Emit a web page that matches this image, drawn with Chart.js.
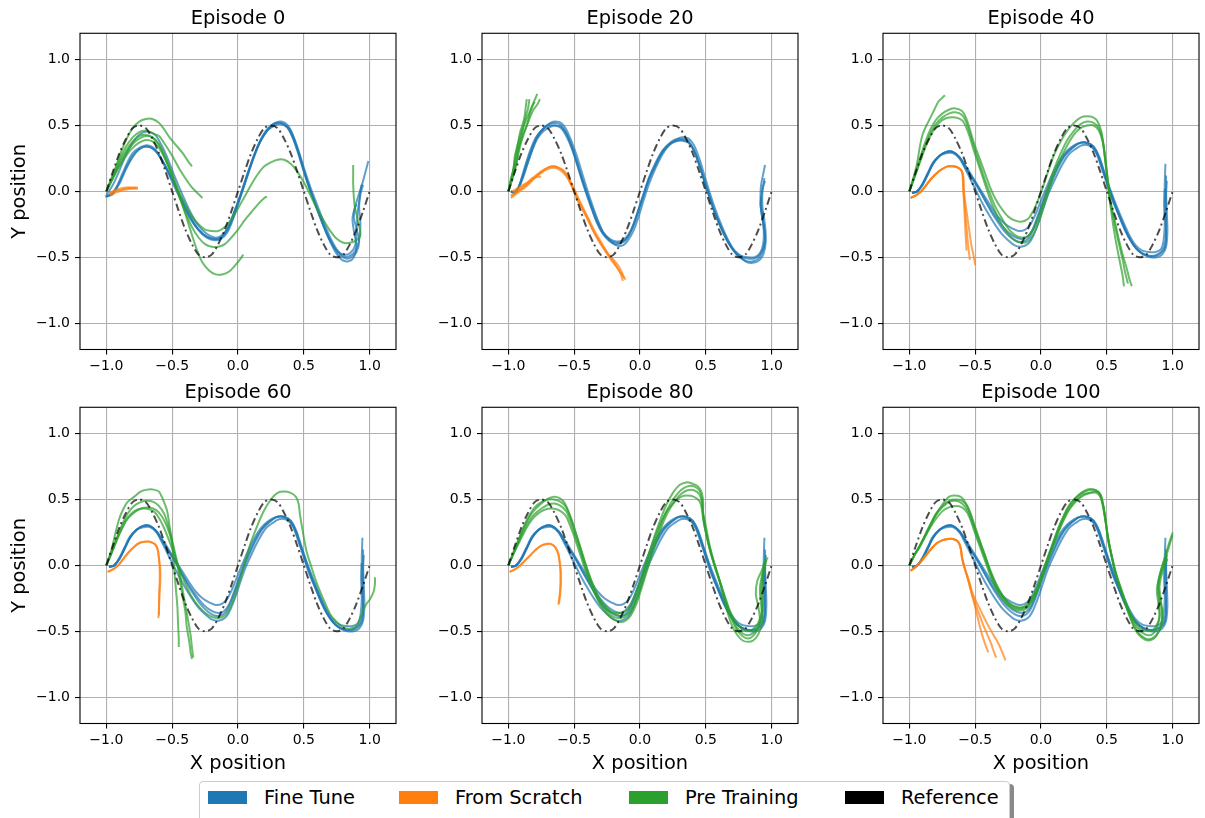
<!DOCTYPE html>
<html>
<head>
<meta charset="utf-8">
<script src="https://cdn.jsdelivr.net/npm/chart.js@4.4.1/dist/chart.umd.min.js"></script>
<style>
  html, body { margin: 0; padding: 0; background: #fff; }
  body { width: 1205px; height: 818px; position: relative; overflow: hidden; font-family: "DejaVu Sans", sans-serif; }
  canvas { position: absolute; }
  .legend { position: absolute; left: 199px; top: 781px; width: 811px; height: 44px; box-sizing: border-box;
            border: 1px solid #cccccc; border-radius: 4px; background: #fff; box-shadow: 4px 3px 0 #8a8a8a; }
  .patch { position: absolute; top: 791px; width: 39px; height: 13px; }
  .label { position: absolute; top: 788px; font-size: 19.4px; line-height: 19.4px; color: #000; white-space: nowrap; }
</style>
</head>
<body>
<div class="legend"></div>
<div class="patch" style="left:208px;background:#1f77b4"></div><div class="label" style="left:264px">Fine Tune</div>
<div class="patch" style="left:399px;background:#ff7f0e"></div><div class="label" style="left:455px">From Scratch</div>
<div class="patch" style="left:629px;background:#2ca02c"></div><div class="label" style="left:685px">Pre Training</div>
<div class="patch" style="left:845px;background:#000000"></div><div class="label" style="left:901px">Reference</div>

<script>
// ---- data ----
const episodes = [0, 20, 40, 60, 80, 100];

// reference path (dash-dot)
const refX = [-1, -0.95, -0.9, -0.85, -0.8, -0.75, -0.7, -0.65, -0.6, -0.55, -0.5, -0.45, -0.4, -0.35, -0.3, -0.25, -0.2, -0.15, -0.1, -0.05,
              0, 0.05, 0.1, 0.15, 0.2, 0.25, 0.3, 0.35, 0.4, 0.45, 0.5, 0.55, 0.6, 0.65, 0.7, 0.75, 0.8, 0.85, 0.9, 0.95, 1.0];
const refY = [0, 0.15, 0.29, 0.4, 0.48, 0.5, 0.48, 0.4, 0.29, 0.15, 0, -0.15, -0.29, -0.4, -0.48, -0.5, -0.48, -0.4, -0.29, -0.15,
              0, 0.15, 0.29, 0.4, 0.48, 0.5, 0.48, 0.4, 0.29, 0.15, 0, -0.15, -0.29, -0.4, -0.48, -0.5, -0.48, -0.4, -0.29, -0.15, 0];

// Episode 0
const fineEp0 = [
  [[-1.01,-0.04],[-0.96,-0.02],[-0.92,0.04],[-0.88,0.13],[-0.84,0.22],[-0.8,0.29],[-0.75,0.33],[-0.69,0.35],[-0.63,0.32],[-0.58,0.24],[-0.53,0.14],[-0.48,0.03],[-0.42,-0.09],[-0.36,-0.21],[-0.3,-0.29],[-0.24,-0.34],[-0.18,-0.36],[-0.13,-0.35],[-0.08,-0.29],[-0.03,-0.16],[0.02,-0.02],[0.07,0.13],[0.12,0.27],[0.17,0.39],[0.22,0.47],[0.28,0.52],[0.33,0.53],[0.38,0.5],[0.42,0.42],[0.46,0.31],[0.5,0.18],[0.55,0.03],[0.6,-0.1],[0.65,-0.23],[0.7,-0.35],[0.75,-0.44],[0.8,-0.49],[0.85,-0.49],[0.89,-0.45],[0.92,-0.37],[0.93,-0.25],[0.92,-0.12],[0.93,0.0],[0.94,0.05]],
  [[-1.0,-0.03],[-0.95,0.05],[-0.9,0.16],[-0.85,0.28],[-0.8,0.37],[-0.75,0.43],[-0.69,0.455],[-0.63,0.43],[-0.58,0.35],[-0.53,0.24],[-0.48,0.11],[-0.42,-0.03],[-0.36,-0.16],[-0.3,-0.26],[-0.24,-0.32],[-0.18,-0.35],[-0.13,-0.34],[-0.08,-0.28],[-0.03,-0.16],[0.02,-0.03],[0.07,0.12],[0.12,0.26],[0.17,0.38],[0.22,0.46],[0.27,0.51],[0.32,0.52],[0.37,0.49],[0.41,0.42],[0.45,0.31],[0.49,0.18],[0.54,0.03],[0.59,-0.11],[0.64,-0.24],[0.69,-0.36],[0.74,-0.46],[0.79,-0.52],[0.84,-0.53],[0.88,-0.5],[0.9,-0.42],[0.88,-0.3],[0.87,-0.2],[0.9,-0.08],[0.95,0.08],[0.99,0.23]],
  [[-1.0,-0.04],[-0.95,-0.01],[-0.9,0.06],[-0.85,0.17],[-0.8,0.26],[-0.75,0.32],[-0.69,0.34],[-0.63,0.31],[-0.58,0.24],[-0.53,0.15],[-0.48,0.05],[-0.42,-0.07],[-0.36,-0.19],[-0.3,-0.29],[-0.24,-0.35],[-0.18,-0.37],[-0.13,-0.36],[-0.08,-0.31],[-0.03,-0.19],[0.02,-0.04],[0.07,0.11],[0.12,0.26],[0.17,0.38],[0.22,0.46],[0.28,0.5],[0.33,0.51],[0.38,0.48],[0.42,0.4],[0.46,0.29],[0.5,0.16],[0.55,0.01],[0.6,-0.13],[0.65,-0.26],[0.7,-0.37],[0.75,-0.45],[0.8,-0.48],[0.85,-0.47],[0.89,-0.41],[0.9,-0.3],[0.91,-0.15],[0.93,-0.02],[0.95,0.05]],
  [[-1.0,-0.04],[-0.95,-0.02],[-0.9,0.07],[-0.85,0.18],[-0.8,0.27],[-0.75,0.32],[-0.7,0.34],[-0.64,0.32],[-0.59,0.26],[-0.54,0.17],[-0.49,0.07],[-0.44,-0.05],[-0.38,-0.17],[-0.32,-0.27],[-0.26,-0.33],[-0.2,-0.36],[-0.15,-0.36],[-0.1,-0.32],[-0.05,-0.23],[0.0,-0.09],[0.05,0.06],[0.1,0.21],[0.15,0.34],[0.2,0.43],[0.25,0.49],[0.3,0.52],[0.35,0.51],[0.4,0.46],[0.44,0.36],[0.48,0.23],[0.52,0.09],[0.57,-0.05],[0.62,-0.18],[0.67,-0.31],[0.72,-0.41],[0.77,-0.48],[0.82,-0.51],[0.86,-0.5],[0.9,-0.46],[0.92,-0.38],[0.9,-0.28],[0.88,-0.2],[0.89,-0.12],[0.9,-0.1]]
];
const scratchEp0 = [
  [[-0.98,-0.02],[-0.94,0.0],[-0.9,0.01],[-0.86,0.02],[-0.82,0.025],[-0.77,0.025]],
  [[-0.97,-0.03],[-0.93,-0.01],[-0.89,0.005],[-0.85,0.015],[-0.8,0.02],[-0.76,0.02]],
  [[-0.98,-0.01],[-0.94,0.005],[-0.9,0.02],[-0.85,0.03],[-0.8,0.03],[-0.76,0.03]]
];
const preEp0 = [
  [[-1,0],[-0.96,0.1],[-0.92,0.21],[-0.88,0.32],[-0.84,0.41],[-0.8,0.48],[-0.75,0.53],[-0.7,0.55],[-0.65,0.55],[-0.6,0.52],[-0.56,0.47],[-0.52,0.41],[-0.47,0.35],[-0.42,0.29],[-0.38,0.23],[-0.35,0.19]],
  [[-1,0],[-0.95,0.12],[-0.9,0.24],[-0.85,0.34],[-0.8,0.41],[-0.75,0.45],[-0.7,0.46],[-0.65,0.44],[-0.6,0.42],[-0.55,0.35],[-0.5,0.27],[-0.45,0.18],[-0.4,0.1],[-0.35,0.03],[-0.3,-0.02],[-0.27,-0.05]],
  [[-1,0],[-0.95,0.1],[-0.9,0.2],[-0.85,0.29],[-0.8,0.36],[-0.75,0.4],[-0.7,0.42],[-0.65,0.41],[-0.6,0.36],[-0.55,0.26],[-0.5,0.13],[-0.45,0.0],[-0.4,-0.1],[-0.35,-0.19],[-0.3,-0.25],[-0.25,-0.29],[-0.2,-0.3],[-0.15,-0.3],[-0.1,-0.27],[-0.05,-0.21],[0.0,-0.13],[0.05,-0.04],[0.1,0.05],[0.15,0.13],[0.2,0.19],[0.25,0.22],[0.3,0.24],[0.35,0.24],[0.4,0.21],[0.45,0.15],[0.5,0.07],[0.55,-0.03],[0.6,-0.13],[0.65,-0.22],[0.7,-0.3],[0.75,-0.36],[0.8,-0.39],[0.85,-0.39],[0.9,-0.37],[0.93,-0.33],[0.91,-0.22],[0.885,-0.1],[0.875,0.05],[0.875,0.2]],
  [[-1,0],[-0.95,0.1],[-0.9,0.19],[-0.85,0.27],[-0.8,0.33],[-0.75,0.37],[-0.7,0.39],[-0.65,0.38],[-0.6,0.33],[-0.55,0.24],[-0.5,0.12],[-0.45,-0.02],[-0.4,-0.17],[-0.35,-0.33],[-0.31,-0.45],[-0.27,-0.54],[-0.22,-0.6],[-0.17,-0.63],[-0.12,-0.63],[-0.07,-0.61],[-0.02,-0.56],[0.02,-0.51],[0.04,-0.48]],
  [[-1,0],[-0.95,0.11],[-0.9,0.22],[-0.85,0.31],[-0.8,0.38],[-0.75,0.42],[-0.7,0.43],[-0.65,0.41],[-0.6,0.35],[-0.55,0.24],[-0.5,0.11],[-0.45,-0.03],[-0.4,-0.16],[-0.35,-0.27],[-0.3,-0.35],[-0.25,-0.4],[-0.2,-0.42],[-0.15,-0.42],[-0.1,-0.4],[-0.05,-0.35],[0.0,-0.29],[0.05,-0.22],[0.1,-0.16],[0.15,-0.1],[0.2,-0.05],[0.22,-0.04]]
];

// Episode 20
const fineEp20 = [
  [[-0.98,0.0],[-0.95,-0.01],[-0.92,0.03],[-0.9,0.1],[-0.87,0.2],[-0.83,0.32],[-0.79,0.41],[-0.74,0.47],[-0.69,0.51],[-0.65,0.52],[-0.61,0.51],[-0.57,0.46],[-0.53,0.37],[-0.49,0.25],[-0.45,0.12],[-0.41,0.0],[-0.37,-0.12],[-0.33,-0.23],[-0.29,-0.31],[-0.24,-0.37],[-0.19,-0.4],[-0.14,-0.39],[-0.1,-0.36],[-0.06,-0.28],[-0.02,-0.17],[0.02,-0.05],[0.06,0.07],[0.11,0.18],[0.16,0.28],[0.21,0.35],[0.26,0.39],[0.31,0.4],[0.36,0.39],[0.4,0.33],[0.44,0.23],[0.48,0.11],[0.52,-0.02],[0.56,-0.14],[0.61,-0.26],[0.66,-0.37],[0.71,-0.45],[0.76,-0.5],[0.81,-0.53],[0.86,-0.53],[0.9,-0.51],[0.93,-0.46],[0.95,-0.38],[0.94,-0.27],[0.92,-0.15],[0.915,-0.05],[0.92,0.05],[0.95,0.2]],
  [[-0.98,0.0],[-0.95,-0.01],[-0.92,0.04],[-0.89,0.12],[-0.86,0.22],[-0.82,0.33],[-0.78,0.42],[-0.73,0.48],[-0.68,0.5],[-0.64,0.5],[-0.6,0.48],[-0.56,0.42],[-0.52,0.33],[-0.48,0.21],[-0.44,0.08],[-0.4,-0.04],[-0.36,-0.15],[-0.32,-0.25],[-0.28,-0.32],[-0.23,-0.37],[-0.18,-0.39],[-0.13,-0.38],[-0.09,-0.34],[-0.05,-0.26],[-0.01,-0.14],[0.03,-0.02],[0.07,0.1],[0.12,0.21],[0.17,0.3],[0.22,0.35],[0.27,0.38],[0.32,0.39],[0.37,0.37],[0.41,0.31],[0.45,0.2],[0.49,0.07],[0.53,-0.05],[0.57,-0.17],[0.62,-0.29],[0.67,-0.39],[0.72,-0.46],[0.77,-0.5],[0.82,-0.51],[0.87,-0.51],[0.91,-0.48],[0.94,-0.42],[0.95,-0.32],[0.93,-0.2],[0.92,-0.08],[0.93,0.02],[0.95,0.08]],
  [[-0.98,0.0],[-0.95,-0.01],[-0.92,0.03],[-0.89,0.1],[-0.86,0.19],[-0.82,0.31],[-0.78,0.41],[-0.73,0.48],[-0.68,0.52],[-0.64,0.53],[-0.6,0.52],[-0.56,0.47],[-0.52,0.38],[-0.48,0.27],[-0.44,0.14],[-0.4,0.01],[-0.36,-0.11],[-0.32,-0.22],[-0.28,-0.31],[-0.23,-0.37],[-0.18,-0.41],[-0.13,-0.41],[-0.09,-0.37],[-0.05,-0.3],[-0.01,-0.19],[0.03,-0.06],[0.07,0.06],[0.12,0.18],[0.17,0.28],[0.22,0.35],[0.27,0.39],[0.32,0.41],[0.37,0.4],[0.41,0.35],[0.45,0.25],[0.49,0.12],[0.53,-0.01],[0.57,-0.13],[0.62,-0.26],[0.67,-0.37],[0.72,-0.46],[0.77,-0.51],[0.82,-0.54],[0.87,-0.54],[0.91,-0.52],[0.94,-0.47],[0.955,-0.38],[0.95,-0.26],[0.93,-0.12],[0.93,0.0],[0.945,0.1]],
  [[-0.98,0.0],[-0.95,-0.005],[-0.92,0.035],[-0.89,0.11],[-0.86,0.2],[-0.82,0.31],[-0.78,0.4],[-0.73,0.46],[-0.68,0.49],[-0.64,0.5],[-0.6,0.49],[-0.56,0.44],[-0.52,0.35],[-0.48,0.23],[-0.44,0.1],[-0.4,-0.02],[-0.36,-0.13],[-0.32,-0.23],[-0.28,-0.31],[-0.23,-0.36],[-0.18,-0.38],[-0.13,-0.37],[-0.09,-0.33],[-0.05,-0.25],[-0.01,-0.13],[0.03,-0.01],[0.07,0.11],[0.12,0.22],[0.17,0.31],[0.22,0.36],[0.27,0.38],[0.32,0.385],[0.37,0.37],[0.41,0.31],[0.45,0.21],[0.49,0.08],[0.53,-0.04],[0.57,-0.16],[0.62,-0.28],[0.67,-0.38],[0.72,-0.45],[0.77,-0.49],[0.82,-0.5],[0.87,-0.5],[0.91,-0.47],[0.935,-0.4],[0.94,-0.3],[0.93,-0.2],[0.915,-0.1],[0.92,-0.04]]
];
const scratchEp20 = [
  [[-0.98,-0.04],[-0.94,-0.01],[-0.9,0.02],[-0.86,0.05],[-0.82,0.09],[-0.78,0.12],[-0.74,0.15],[-0.7,0.18],[-0.66,0.19],[-0.62,0.18],[-0.58,0.15],[-0.55,0.11],[-0.52,0.05],[-0.49,-0.02],[-0.46,-0.08],[-0.43,-0.14],[-0.39,-0.22],[-0.36,-0.29],[-0.32,-0.36],[-0.28,-0.42],[-0.24,-0.48],[-0.2,-0.52],[-0.16,-0.57],[-0.14,-0.61],[-0.12,-0.66]],
  [[-0.98,-0.05],[-0.94,-0.02],[-0.9,0.01],[-0.86,0.04],[-0.82,0.08],[-0.78,0.12],[-0.74,0.15],[-0.7,0.17],[-0.66,0.18],[-0.62,0.17],[-0.58,0.14],[-0.55,0.1],[-0.52,0.04],[-0.49,-0.03],[-0.46,-0.1],[-0.42,-0.17],[-0.38,-0.25],[-0.34,-0.33],[-0.3,-0.4],[-0.26,-0.46],[-0.22,-0.52],[-0.18,-0.57],[-0.15,-0.62],[-0.13,-0.68]],
  [[-0.98,-0.03],[-0.94,0.0],[-0.9,0.03],[-0.86,0.06],[-0.82,0.1],[-0.78,0.13],[-0.74,0.16],[-0.7,0.18],[-0.66,0.19],[-0.62,0.18],[-0.58,0.16],[-0.55,0.12],[-0.52,0.06],[-0.49,0.0],[-0.46,-0.07],[-0.43,-0.13],[-0.39,-0.21],[-0.35,-0.29],[-0.31,-0.36],[-0.27,-0.43],[-0.23,-0.49],[-0.19,-0.55],[-0.16,-0.6],[-0.13,-0.64],[-0.11,-0.67]],
  [[-0.97,0.0],[-0.92,0.03],[-0.87,0.06],[-0.82,0.09],[-0.78,0.11],[-0.75,0.11]]
];
const preEp20 = [
  [[-1,0],[-0.98,0.08],[-0.96,0.18],[-0.95,0.27],[-0.93,0.35],[-0.91,0.45],[-0.88,0.55],[-0.87,0.62],[-0.86,0.7]],
  [[-1,0],[-0.98,0.1],[-0.95,0.2],[-0.93,0.3],[-0.91,0.38],[-0.89,0.47],[-0.87,0.56],[-0.85,0.63],[-0.84,0.7]],
  [[-1,0],[-0.97,0.1],[-0.94,0.22],[-0.92,0.33],[-0.89,0.43],[-0.86,0.5],[-0.84,0.58],[-0.82,0.64],[-0.8,0.68]],
  [[-1,0],[-0.97,0.12],[-0.95,0.24],[-0.93,0.35],[-0.9,0.45],[-0.87,0.53],[-0.84,0.6],[-0.81,0.67],[-0.78,0.74]],
  [[-1,0],[-0.97,0.09],[-0.94,0.2],[-0.92,0.3],[-0.9,0.38],[-0.87,0.47],[-0.84,0.55],[-0.81,0.62],[-0.78,0.66],[-0.76,0.7]]
];

// Episodes 40-100: fine tune bundle looks the same in every panel
const fineSettled = [
  [[-0.98,-0.01],[-0.94,0.0],[-0.9,0.05],[-0.86,0.13],[-0.82,0.21],[-0.77,0.27],[-0.72,0.3],[-0.67,0.3],[-0.62,0.26],[-0.58,0.2],[-0.54,0.13],[-0.5,0.07],[-0.46,0.0],[-0.41,-0.09],[-0.36,-0.17],[-0.31,-0.24],[-0.26,-0.3],[-0.21,-0.34],[-0.16,-0.36],[-0.11,-0.35],[-0.07,-0.3],[-0.03,-0.2],[0.01,-0.09],[0.05,0.02],[0.1,0.13],[0.15,0.23],[0.2,0.3],[0.25,0.34],[0.3,0.37],[0.35,0.37],[0.4,0.34],[0.44,0.26],[0.48,0.14],[0.52,0.02],[0.57,-0.12],[0.62,-0.24],[0.67,-0.35],[0.72,-0.43],[0.77,-0.47],[0.82,-0.49],[0.87,-0.49],[0.91,-0.47],[0.94,-0.43],[0.95,-0.33],[0.945,-0.2],[0.94,-0.06],[0.94,0.06],[0.945,0.21]],
  [[-0.98,-0.01],[-0.94,0.0],[-0.9,0.05],[-0.86,0.13],[-0.82,0.21],[-0.77,0.27],[-0.72,0.29],[-0.67,0.29],[-0.62,0.25],[-0.58,0.18],[-0.54,0.1],[-0.5,0.02],[-0.45,-0.08],[-0.4,-0.17],[-0.35,-0.25],[-0.3,-0.32],[-0.25,-0.37],[-0.2,-0.41],[-0.15,-0.42],[-0.1,-0.4],[-0.06,-0.34],[-0.02,-0.24],[0.02,-0.12],[0.06,-0.01],[0.11,0.1],[0.16,0.2],[0.21,0.28],[0.26,0.32],[0.31,0.35],[0.36,0.35],[0.41,0.31],[0.45,0.22],[0.49,0.1],[0.53,-0.02],[0.58,-0.15],[0.63,-0.27],[0.68,-0.37],[0.73,-0.44],[0.78,-0.48],[0.83,-0.5],[0.88,-0.5],[0.92,-0.48],[0.95,-0.42],[0.96,-0.3],[0.955,-0.15],[0.95,-0.02],[0.955,0.08]],
  [[-0.98,-0.01],[-0.94,0.0],[-0.9,0.06],[-0.86,0.14],[-0.82,0.22],[-0.77,0.27],[-0.72,0.3],[-0.67,0.3],[-0.62,0.26],[-0.57,0.19],[-0.52,0.11],[-0.47,0.03],[-0.42,-0.05],[-0.37,-0.13],[-0.32,-0.2],[-0.27,-0.25],[-0.22,-0.28],[-0.17,-0.3],[-0.12,-0.29],[-0.08,-0.25],[-0.04,-0.17],[0.0,-0.07],[0.05,0.05],[0.1,0.16],[0.15,0.25],[0.2,0.31],[0.25,0.35],[0.3,0.37],[0.35,0.37],[0.4,0.34],[0.44,0.27],[0.48,0.15],[0.52,0.03],[0.57,-0.1],[0.62,-0.22],[0.67,-0.33],[0.72,-0.41],[0.77,-0.45],[0.82,-0.46],[0.87,-0.46],[0.91,-0.44],[0.93,-0.38],[0.94,-0.25],[0.935,-0.1],[0.94,0.02]],
  [[-0.98,-0.01],[-0.94,0.0],[-0.9,0.05],[-0.86,0.13],[-0.82,0.21],[-0.77,0.27],[-0.72,0.3],[-0.67,0.3],[-0.62,0.26],[-0.58,0.19],[-0.53,0.11],[-0.48,0.03],[-0.43,-0.06],[-0.38,-0.15],[-0.33,-0.23],[-0.28,-0.3],[-0.23,-0.35],[-0.18,-0.38],[-0.13,-0.38],[-0.09,-0.35],[-0.05,-0.27],[-0.01,-0.16],[0.03,-0.05],[0.08,0.07],[0.13,0.18],[0.18,0.27],[0.23,0.32],[0.28,0.36],[0.33,0.37],[0.38,0.35],[0.42,0.29],[0.46,0.18],[0.5,0.06],[0.54,-0.06],[0.59,-0.18],[0.64,-0.3],[0.69,-0.39],[0.74,-0.45],[0.79,-0.48],[0.84,-0.49],[0.88,-0.48],[0.92,-0.45],[0.945,-0.38],[0.95,-0.25],[0.95,-0.1],[0.95,0.05],[0.95,0.12]]
];

// Episode 40
const scratchEp40 = [
  [[-0.99,-0.05],[-0.95,-0.03],[-0.91,0.0],[-0.87,0.05],[-0.83,0.1],[-0.79,0.14],[-0.75,0.17],[-0.71,0.19],[-0.67,0.19],[-0.63,0.18],[-0.6,0.15],[-0.59,0.1],[-0.59,0.02],[-0.585,-0.08],[-0.58,-0.18],[-0.575,-0.28],[-0.57,-0.37],[-0.565,-0.45]],
  [[-0.99,-0.05],[-0.95,-0.03],[-0.91,0.0],[-0.87,0.05],[-0.83,0.1],[-0.79,0.14],[-0.75,0.17],[-0.71,0.19],[-0.67,0.19],[-0.63,0.18],[-0.6,0.15],[-0.595,0.1],[-0.59,0.02],[-0.58,-0.1],[-0.57,-0.22],[-0.56,-0.34],[-0.55,-0.44],[-0.54,-0.52]],
  [[-0.99,-0.05],[-0.95,-0.03],[-0.91,0.0],[-0.87,0.05],[-0.83,0.1],[-0.79,0.14],[-0.75,0.17],[-0.71,0.19],[-0.67,0.19],[-0.63,0.18],[-0.6,0.15],[-0.59,0.1],[-0.585,0.0],[-0.57,-0.12],[-0.55,-0.26],[-0.53,-0.4],[-0.51,-0.5],[-0.5,-0.56]]
];
const preEp40 = [
  [[-1,0],[-0.96,0.12],[-0.92,0.25],[-0.88,0.37],[-0.84,0.47],[-0.8,0.54],[-0.75,0.59],[-0.7,0.62],[-0.65,0.63],[-0.6,0.61],[-0.57,0.56],[-0.54,0.47],[-0.51,0.37],[-0.47,0.26],[-0.43,0.15],[-0.39,0.04],[-0.35,-0.05],[-0.3,-0.13],[-0.25,-0.19],[-0.2,-0.22],[-0.15,-0.23],[-0.1,-0.21],[-0.06,-0.15],[-0.02,-0.06],[0.02,0.05],[0.06,0.17],[0.1,0.28],[0.15,0.38],[0.2,0.46],[0.25,0.52],[0.3,0.56],[0.35,0.57],[0.4,0.56],[0.43,0.53],[0.46,0.45],[0.48,0.3],[0.5,0.12],[0.52,-0.05],[0.54,-0.2],[0.56,-0.33],[0.58,-0.44],[0.6,-0.54],[0.62,-0.64],[0.63,-0.72]],
  [[-1,0],[-0.96,0.11],[-0.92,0.23],[-0.88,0.35],[-0.84,0.44],[-0.8,0.51],[-0.75,0.56],[-0.7,0.59],[-0.65,0.6],[-0.6,0.58],[-0.57,0.53],[-0.54,0.44],[-0.51,0.34],[-0.47,0.22],[-0.43,0.1],[-0.39,-0.01],[-0.35,-0.11],[-0.3,-0.2],[-0.25,-0.28],[-0.2,-0.33],[-0.15,-0.35],[-0.1,-0.34],[-0.06,-0.29],[-0.02,-0.2],[0.02,-0.08],[0.06,0.05],[0.1,0.17],[0.15,0.29],[0.2,0.39],[0.25,0.46],[0.3,0.51],[0.35,0.53],[0.4,0.52],[0.44,0.48],[0.47,0.38],[0.49,0.24],[0.51,0.07],[0.53,-0.08],[0.56,-0.22],[0.59,-0.36],[0.62,-0.48],[0.65,-0.58],[0.67,-0.66],[0.69,-0.72]],
  [[-1,0],[-0.96,0.11],[-0.92,0.22],[-0.88,0.33],[-0.84,0.42],[-0.8,0.49],[-0.75,0.54],[-0.7,0.56],[-0.65,0.56],[-0.6,0.54],[-0.57,0.49],[-0.54,0.41],[-0.51,0.31],[-0.47,0.19],[-0.43,0.07],[-0.39,-0.05],[-0.35,-0.15],[-0.3,-0.25],[-0.25,-0.32],[-0.2,-0.37],[-0.15,-0.39],[-0.1,-0.38],[-0.06,-0.33],[-0.02,-0.24],[0.02,-0.12],[0.06,0.01],[0.1,0.13],[0.15,0.25],[0.2,0.35],[0.25,0.43],[0.3,0.48],[0.35,0.5],[0.4,0.5],[0.44,0.46],[0.47,0.37],[0.49,0.22],[0.51,0.06],[0.53,-0.1],[0.56,-0.25],[0.59,-0.39],[0.62,-0.52],[0.64,-0.62],[0.66,-0.7]],
  [[-1,0],[-0.97,0.1],[-0.94,0.22],[-0.92,0.34],[-0.9,0.43],[-0.87,0.5],[-0.84,0.56],[-0.81,0.62],[-0.78,0.68],[-0.75,0.71],[-0.73,0.73]]
];

// Episode 60
const scratchEp60 = [
  [[-0.99,-0.05],[-0.95,-0.03],[-0.91,0.0],[-0.87,0.05],[-0.83,0.1],[-0.79,0.14],[-0.75,0.17],[-0.71,0.18],[-0.67,0.18],[-0.63,0.16],[-0.61,0.12],[-0.6,0.05],[-0.595,-0.03],[-0.595,-0.12],[-0.6,-0.22],[-0.6,-0.31],[-0.6,-0.38]],
  [[-0.99,-0.05],[-0.95,-0.03],[-0.91,0.0],[-0.87,0.05],[-0.83,0.1],[-0.79,0.14],[-0.75,0.17],[-0.71,0.18],[-0.67,0.18],[-0.63,0.16],[-0.61,0.12],[-0.6,0.05],[-0.59,-0.03],[-0.59,-0.12],[-0.595,-0.22],[-0.6,-0.32],[-0.605,-0.4]]
];
const preEp60 = [
  [[-1,0],[-0.96,0.12],[-0.93,0.25],[-0.9,0.36],[-0.87,0.43],[-0.84,0.48],[-0.79,0.52],[-0.74,0.56],[-0.69,0.575],[-0.64,0.575],[-0.6,0.56],[-0.57,0.5],[-0.54,0.42],[-0.52,0.3],[-0.5,0.17],[-0.49,0.04],[-0.48,-0.08],[-0.47,-0.2],[-0.46,-0.32],[-0.455,-0.45],[-0.45,-0.55],[-0.45,-0.62]],
  [[-1,0],[-0.96,0.1],[-0.92,0.21],[-0.88,0.31],[-0.84,0.39],[-0.79,0.45],[-0.74,0.48],[-0.69,0.49],[-0.64,0.48],[-0.6,0.45],[-0.56,0.39],[-0.53,0.3],[-0.5,0.19],[-0.47,0.06],[-0.44,-0.07],[-0.42,-0.19],[-0.4,-0.3],[-0.38,-0.41],[-0.36,-0.53],[-0.35,-0.62],[-0.34,-0.7]],
  [[-1,0],[-0.96,0.09],[-0.92,0.19],[-0.88,0.28],[-0.84,0.35],[-0.79,0.4],[-0.74,0.43],[-0.69,0.44],[-0.64,0.43],[-0.6,0.4],[-0.56,0.34],[-0.52,0.24],[-0.49,0.12],[-0.46,0.0],[-0.44,-0.12],[-0.42,-0.24],[-0.4,-0.35],[-0.39,-0.46],[-0.37,-0.58],[-0.36,-0.66],[-0.35,-0.71]],
  [[-1,0],[-0.96,0.1],[-0.92,0.2],[-0.88,0.29],[-0.84,0.36],[-0.79,0.41],[-0.74,0.43],[-0.69,0.43],[-0.64,0.41],[-0.6,0.36],[-0.56,0.28],[-0.52,0.18],[-0.48,0.07],[-0.44,-0.04],[-0.4,-0.14],[-0.35,-0.24],[-0.3,-0.31],[-0.25,-0.36],[-0.2,-0.39],[-0.15,-0.4],[-0.1,-0.38],[-0.06,-0.32],[-0.02,-0.22],[0.02,-0.09],[0.06,0.05],[0.1,0.18],[0.15,0.31],[0.2,0.42],[0.25,0.5],[0.3,0.55],[0.35,0.56],[0.4,0.55],[0.44,0.52],[0.46,0.47],[0.47,0.39],[0.49,0.27],[0.52,0.11],[0.56,-0.02],[0.6,-0.14],[0.65,-0.26],[0.7,-0.37],[0.75,-0.43],[0.8,-0.47],[0.85,-0.48],[0.9,-0.46],[0.94,-0.37],[0.97,-0.3],[1.0,-0.26],[1.03,-0.2],[1.04,-0.14],[1.04,-0.09]]
];

// Episode 80
const scratchEp80 = [
  [[-0.99,-0.05],[-0.95,-0.03],[-0.91,0.0],[-0.87,0.04],[-0.83,0.08],[-0.79,0.12],[-0.75,0.15],[-0.71,0.16],[-0.67,0.16],[-0.64,0.13],[-0.62,0.08],[-0.61,0.02],[-0.605,-0.06],[-0.605,-0.14],[-0.61,-0.22],[-0.62,-0.3]],
  [[-0.99,-0.05],[-0.95,-0.03],[-0.91,0.0],[-0.87,0.04],[-0.83,0.08],[-0.79,0.12],[-0.75,0.15],[-0.71,0.165],[-0.67,0.16],[-0.64,0.135],[-0.62,0.09],[-0.61,0.03],[-0.6,-0.05],[-0.6,-0.13],[-0.605,-0.21],[-0.615,-0.29]]
];
const preEp80 = [
  [[-1,0],[-0.96,0.1],[-0.92,0.2],[-0.89,0.27],[-0.85,0.35],[-0.81,0.41],[-0.76,0.46],[-0.71,0.5],[-0.66,0.52],[-0.61,0.51],[-0.57,0.47],[-0.54,0.4],[-0.51,0.32],[-0.47,0.19],[-0.43,0.06],[-0.39,-0.06],[-0.35,-0.16],[-0.31,-0.25],[-0.26,-0.31],[-0.21,-0.36],[-0.16,-0.38],[-0.12,-0.38],[-0.08,-0.35],[-0.04,-0.27],[0.0,-0.14],[0.04,0.0],[0.08,0.13],[0.12,0.25],[0.16,0.36],[0.2,0.46],[0.25,0.55],[0.3,0.61],[0.35,0.63],[0.4,0.62],[0.44,0.6],[0.47,0.55],[0.48,0.47],[0.48,0.4],[0.5,0.3],[0.53,0.15],[0.56,0.03],[0.6,-0.1],[0.63,-0.22],[0.66,-0.34],[0.7,-0.46],[0.74,-0.53],[0.78,-0.57],[0.82,-0.58],[0.86,-0.57],[0.9,-0.52],[0.93,-0.42],[0.92,-0.3],[0.91,-0.18],[0.93,-0.06],[0.95,0.0],[0.96,0.04]],
  [[-1,0],[-0.96,0.09],[-0.92,0.18],[-0.88,0.27],[-0.84,0.34],[-0.8,0.39],[-0.75,0.43],[-0.7,0.46],[-0.65,0.47],[-0.6,0.45],[-0.56,0.41],[-0.53,0.34],[-0.5,0.25],[-0.46,0.13],[-0.42,0.0],[-0.38,-0.12],[-0.34,-0.22],[-0.3,-0.3],[-0.25,-0.37],[-0.2,-0.41],[-0.15,-0.43],[-0.11,-0.42],[-0.07,-0.38],[-0.03,-0.3],[0.01,-0.18],[0.05,-0.05],[0.09,0.08],[0.13,0.2],[0.17,0.31],[0.21,0.4],[0.26,0.48],[0.31,0.54],[0.36,0.57],[0.41,0.57],[0.45,0.54],[0.47,0.48],[0.48,0.38],[0.5,0.26],[0.53,0.12],[0.57,-0.02],[0.61,-0.14],[0.65,-0.27],[0.69,-0.38],[0.73,-0.46],[0.77,-0.51],[0.81,-0.53],[0.85,-0.52],[0.89,-0.48],[0.92,-0.4],[0.93,-0.3],[0.92,-0.2],[0.93,-0.08],[0.95,0.02],[0.97,0.06]],
  [[-1,0],[-0.96,0.1],[-0.92,0.2],[-0.88,0.3],[-0.84,0.38],[-0.8,0.44],[-0.75,0.48],[-0.7,0.5],[-0.65,0.5],[-0.6,0.48],[-0.56,0.44],[-0.53,0.37],[-0.5,0.28],[-0.46,0.16],[-0.42,0.03],[-0.38,-0.09],[-0.34,-0.2],[-0.3,-0.28],[-0.25,-0.35],[-0.2,-0.39],[-0.15,-0.4],[-0.11,-0.39],[-0.07,-0.35],[-0.03,-0.27],[0.01,-0.15],[0.05,-0.02],[0.09,0.11],[0.13,0.23],[0.17,0.34],[0.21,0.43],[0.26,0.51],[0.31,0.57],[0.36,0.6],[0.41,0.6],[0.45,0.57],[0.47,0.51],[0.475,0.42],[0.49,0.3],[0.52,0.17],[0.56,0.03],[0.6,-0.1],[0.64,-0.23],[0.68,-0.36],[0.72,-0.46],[0.76,-0.52],[0.8,-0.55],[0.84,-0.55],[0.88,-0.51],[0.91,-0.43],[0.9,-0.32],[0.88,-0.22],[0.89,-0.12],[0.92,-0.05],[0.94,0.0]],
  [[-1,0],[-0.96,0.09],[-0.92,0.17],[-0.88,0.25],[-0.84,0.32],[-0.8,0.37],[-0.75,0.41],[-0.7,0.43],[-0.65,0.43],[-0.6,0.41],[-0.56,0.37],[-0.53,0.3],[-0.5,0.22],[-0.46,0.1],[-0.42,-0.02],[-0.38,-0.13],[-0.34,-0.22],[-0.3,-0.29],[-0.25,-0.34],[-0.2,-0.36],[-0.15,-0.36],[-0.11,-0.34],[-0.07,-0.29],[-0.03,-0.2],[0.01,-0.09],[0.05,0.03],[0.09,0.15],[0.13,0.26],[0.17,0.35],[0.21,0.42],[0.26,0.48],[0.31,0.52],[0.36,0.53],[0.41,0.52],[0.45,0.49],[0.47,0.43],[0.48,0.35],[0.5,0.25],[0.53,0.12],[0.57,-0.01],[0.61,-0.13],[0.65,-0.25],[0.69,-0.36],[0.73,-0.43],[0.77,-0.48],[0.81,-0.5],[0.85,-0.49],[0.89,-0.45],[0.92,-0.37],[0.93,-0.26],[0.93,-0.15],[0.94,-0.05],[0.95,0.05]]
];

// Episode 100
const scratchEp100 = [
  [[-0.99,-0.04],[-0.95,-0.01],[-0.91,0.03],[-0.87,0.08],[-0.83,0.13],[-0.79,0.17],[-0.75,0.19],[-0.71,0.2],[-0.67,0.2],[-0.63,0.18],[-0.61,0.13],[-0.6,0.06],[-0.58,-0.02],[-0.56,-0.09],[-0.54,-0.16],[-0.52,-0.24],[-0.5,-0.32],[-0.48,-0.4],[-0.46,-0.48],[-0.44,-0.55],[-0.42,-0.61],[-0.4,-0.66]],
  [[-0.99,-0.04],[-0.95,-0.01],[-0.91,0.03],[-0.87,0.08],[-0.83,0.13],[-0.79,0.17],[-0.75,0.19],[-0.71,0.2],[-0.67,0.2],[-0.63,0.18],[-0.61,0.13],[-0.6,0.06],[-0.58,-0.02],[-0.56,-0.08],[-0.55,-0.12],[-0.53,-0.2],[-0.5,-0.29],[-0.47,-0.37],[-0.44,-0.45],[-0.41,-0.52],[-0.38,-0.59],[-0.36,-0.65],[-0.34,-0.7]],
  [[-0.99,-0.04],[-0.95,-0.01],[-0.91,0.03],[-0.87,0.08],[-0.83,0.13],[-0.79,0.17],[-0.75,0.19],[-0.71,0.2],[-0.67,0.2],[-0.63,0.18],[-0.61,0.13],[-0.6,0.06],[-0.58,-0.02],[-0.56,-0.08],[-0.54,-0.14],[-0.52,-0.21],[-0.48,-0.3],[-0.44,-0.38],[-0.4,-0.46],[-0.36,-0.53],[-0.32,-0.6],[-0.29,-0.67],[-0.27,-0.72]]
];
const preEp100 = [
  [[-1,0],[-0.96,0.08],[-0.92,0.14],[-0.88,0.22],[-0.84,0.3],[-0.8,0.38],[-0.75,0.46],[-0.7,0.52],[-0.66,0.53],[-0.61,0.52],[-0.57,0.47],[-0.54,0.4],[-0.51,0.31],[-0.47,0.2],[-0.43,0.09],[-0.39,-0.03],[-0.35,-0.13],[-0.3,-0.22],[-0.25,-0.28],[-0.2,-0.31],[-0.15,-0.32],[-0.11,-0.3],[-0.07,-0.25],[-0.03,-0.17],[0.01,-0.06],[0.05,0.06],[0.09,0.17],[0.13,0.28],[0.17,0.37],[0.21,0.45],[0.26,0.51],[0.31,0.55],[0.36,0.57],[0.41,0.57],[0.45,0.54],[0.47,0.47],[0.49,0.35],[0.51,0.2],[0.54,0.05],[0.57,-0.08],[0.61,-0.2],[0.65,-0.32],[0.69,-0.42],[0.73,-0.5],[0.77,-0.54],[0.81,-0.56],[0.85,-0.55],[0.89,-0.51],[0.92,-0.44],[0.92,-0.34],[0.9,-0.24],[0.89,-0.14],[0.91,-0.04],[0.94,0.06],[0.97,0.16],[1.0,0.25]],
  [[-1,0],[-0.96,0.08],[-0.92,0.15],[-0.88,0.23],[-0.84,0.31],[-0.8,0.38],[-0.75,0.44],[-0.7,0.48],[-0.65,0.49],[-0.6,0.47],[-0.56,0.42],[-0.53,0.35],[-0.5,0.26],[-0.46,0.15],[-0.42,0.04],[-0.38,-0.07],[-0.34,-0.16],[-0.29,-0.24],[-0.24,-0.3],[-0.19,-0.33],[-0.14,-0.33],[-0.1,-0.31],[-0.06,-0.25],[-0.02,-0.16],[0.02,-0.05],[0.06,0.07],[0.1,0.18],[0.14,0.28],[0.18,0.37],[0.22,0.44],[0.27,0.5],[0.32,0.54],[0.37,0.55],[0.42,0.55],[0.45,0.52],[0.47,0.45],[0.49,0.33],[0.51,0.19],[0.54,0.05],[0.57,-0.07],[0.61,-0.19],[0.65,-0.3],[0.69,-0.39],[0.73,-0.45],[0.77,-0.49],[0.81,-0.5],[0.85,-0.49],[0.88,-0.45],[0.9,-0.38],[0.89,-0.28],[0.88,-0.18],[0.9,-0.08],[0.93,0.02],[0.95,0.07]],
  [[-1,0],[-0.96,0.08],[-0.92,0.15],[-0.88,0.22],[-0.84,0.29],[-0.8,0.35],[-0.75,0.41],[-0.7,0.44],[-0.65,0.45],[-0.6,0.44],[-0.56,0.4],[-0.53,0.33],[-0.5,0.24],[-0.46,0.13],[-0.42,0.02],[-0.38,-0.09],[-0.34,-0.18],[-0.29,-0.26],[-0.24,-0.31],[-0.19,-0.34],[-0.14,-0.34],[-0.1,-0.32],[-0.06,-0.26],[-0.02,-0.17],[0.02,-0.06],[0.06,0.06],[0.1,0.17],[0.14,0.27],[0.18,0.36],[0.22,0.43],[0.27,0.49],[0.32,0.53],[0.37,0.55],[0.42,0.56],[0.45,0.53],[0.47,0.46],[0.49,0.34],[0.51,0.2],[0.54,0.06],[0.57,-0.07],[0.61,-0.2],[0.65,-0.32],[0.69,-0.43],[0.73,-0.51],[0.77,-0.55],[0.81,-0.57],[0.85,-0.56],[0.88,-0.53],[0.91,-0.46],[0.92,-0.36],[0.91,-0.26],[0.9,-0.16],[0.92,-0.06],[0.94,0.0],[0.96,0.05]],
  [[-1,0],[-0.96,0.08],[-0.92,0.15],[-0.88,0.23],[-0.84,0.31],[-0.8,0.39],[-0.75,0.45],[-0.7,0.49],[-0.65,0.5],[-0.6,0.49],[-0.56,0.45],[-0.53,0.38],[-0.5,0.29],[-0.46,0.17],[-0.42,0.06],[-0.38,-0.05],[-0.34,-0.14],[-0.29,-0.23],[-0.24,-0.29],[-0.19,-0.32],[-0.14,-0.32],[-0.1,-0.3],[-0.06,-0.24],[-0.02,-0.15],[0.02,-0.04],[0.06,0.08],[0.1,0.19],[0.14,0.3],[0.18,0.39],[0.22,0.46],[0.27,0.52],[0.32,0.56],[0.37,0.58],[0.42,0.57],[0.45,0.54],[0.47,0.47],[0.49,0.35],[0.51,0.21],[0.54,0.06],[0.57,-0.06],[0.61,-0.18],[0.65,-0.3],[0.69,-0.4],[0.73,-0.47],[0.77,-0.51],[0.81,-0.53],[0.85,-0.52],[0.88,-0.47],[0.9,-0.4],[0.9,-0.3],[0.89,-0.2],[0.9,-0.1],[0.93,0.0],[0.96,0.1],[0.99,0.2],[1.0,0.23]]
];

const panels = [
  { fine: fineEp0,     scratch: scratchEp0,   pre: preEp0 },
  { fine: fineEp20,    scratch: scratchEp20,  pre: preEp20 },
  { fine: fineSettled, scratch: scratchEp40,  pre: preEp40 },
  { fine: fineSettled, scratch: scratchEp60,  pre: preEp60 },
  { fine: fineSettled, scratch: scratchEp80,  pre: preEp80 },
  { fine: fineSettled, scratch: scratchEp100, pre: preEp100 }
];

// ---- drawing ----
const FONT = 'DejaVu Sans';
const colLeft = [0, 401.5, 802.5];
const rowTop = [0, 374];
const rowHeight = [376, 403];

const frame = {
  id: 'frame',
  afterDatasetsDraw(chart) {
    const { ctx, chartArea: a } = chart;
    ctx.save();
    ctx.strokeStyle = '#000';
    ctx.lineWidth = 1.1;
    ctx.strokeRect(a.left, a.top, a.right - a.left, a.bottom - a.top);
    ctx.restore();
  }
};

function tickText(v) {
  if (Math.abs(v) < 1e-9) return '0.0';
  return (v < 0 ? '\u2212' : '') + Math.abs(v).toFixed(1);
}

function traj(lines, color) {
  return lines.map(pts => ({
    data: pts.map(p => ({ x: p[0], y: p[1] })),
    showLine: true, fill: false,
    borderColor: color, borderWidth: 2,
    pointRadius: 0, pointHoverRadius: 0,
    tension: 0.3
  }));
}

episodes.forEach((ep, i) => {
  const row = Math.floor(i / 3), col = i % 3;
  const canvas = document.createElement('canvas');
  canvas.width = 400;
  canvas.height = rowHeight[row];
  canvas.style.left = colLeft[col] + 'px';
  canvas.style.top = rowTop[row] + 'px';
  document.body.appendChild(canvas);

  const p = panels[i];
  const reference = {
    data: refX.map((x, k) => ({ x, y: refY[k] })),
    showLine: true, fill: false,
    borderColor: 'rgba(0,0,0,0.7)', borderWidth: 2,
    borderDash: [7.5, 3.5, 2, 3.5],
    pointRadius: 0, tension: 0.3
  };
  // matplotlib draw order: fine, scratch, pre, reference (last on top)
  const datasets = [
    ...traj(p.fine, 'rgba(31,119,180,0.7)'),
    ...traj(p.scratch, 'rgba(255,127,14,0.7)'),
    ...traj(p.pre, 'rgba(44,160,44,0.7)'),
    reference
  ].reverse();

  const tickFont = { family: FONT, size: 14 };
  const labelFont = { family: FONT, size: 19.4 };

  new Chart(canvas, {
    type: 'scatter',
    data: { datasets },
    options: {
      responsive: false,
      animation: false,
      events: [],
      layout: { padding: { left: 0, right: 4, top: 0, bottom: 0 } },
      plugins: {
        legend: { display: false },
        tooltip: { enabled: false },
        title: {
          display: true, fullSize: false,
          text: 'Episode ' + ep,
          color: '#000',
          font: { family: FONT, size: 19.4, weight: 'normal' },
          padding: { top: 7.7, bottom: 2.3 }
        }
      },
      scales: {
        x: {
          type: 'linear', min: -1.2, max: 1.2,
          ticks: { stepSize: 0.5, includeBounds: false, callback: tickText, font: tickFont, color: '#000', padding: 3, maxRotation: 0 },
          grid: { color: '#b0b0b0', lineWidth: 1.1, tickColor: '#000', tickLength: 5, tickWidth: 1.1 },
          border: { display: false },
          title: { display: row === 1, text: 'X position', color: '#000', font: labelFont, padding: { top: 0, bottom: 1.6 } },
          afterFit(scale) { scale.height = row === 1 ? 53.5 : 26.5; }
        },
        y: {
          type: 'linear', min: -1.2, max: 1.2,
          ticks: { stepSize: 0.5, includeBounds: false, callback: tickText, font: tickFont, color: '#000', padding: 5 },
          grid: { color: '#b0b0b0', lineWidth: 1.1, tickColor: '#000', tickLength: 5, tickWidth: 1.1 },
          border: { display: false },
          title: { display: col === 0, text: 'Y position', color: '#000', font: labelFont, padding: { top: 8.7, bottom: 0 } },
          afterFit(scale) { scale.width = 80; }
        }
      }
    },
    plugins: [frame]
  });
});
</script>
</body>
</html>
